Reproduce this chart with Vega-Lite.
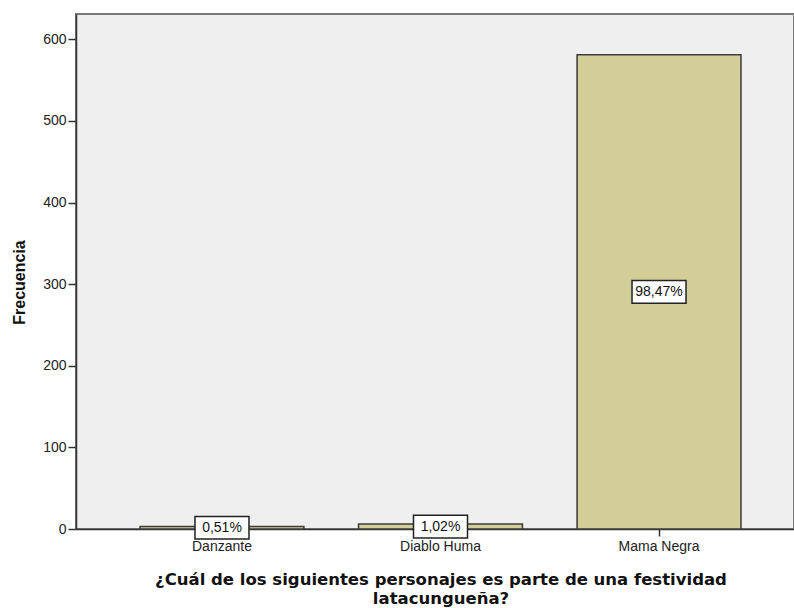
{
  "$schema": "https://vega.github.io/schema/vega-lite/v6.json",
  "width": 718,
  "height": 515,
  "autosize": {"type": "none"},
  "padding": {"left": 76, "top": 14, "right": 0, "bottom": 79},
  "background": "white",
  "config": {
    "view": {"fill": "#efefef", "stroke": "#7a7a7a", "strokeWidth": 2},
    "font": "Liberation Sans"
  },
  "data": {
    "values": [
      {"personaje": "Danzante", "frecuencia": 3, "porcentaje": "0,51%"},
      {"personaje": "Diablo Huma", "frecuencia": 6, "porcentaje": "1,02%"},
      {"personaje": "Mama Negra", "frecuencia": 581, "porcentaje": "98,47%"}
    ]
  },
  "encoding": {
    "x": {
      "field": "personaje",
      "type": "nominal",
      "sort": null,
      "scale": {"range": [0, 729], "paddingInner": 0.25, "paddingOuter": 0.293},
      "axis": {
        "title": ["¿Cuál de los siguientes personajes es parte de una festividad", "latacungueña?"],
        "titleFont": "DejaVu Sans",
        "titleFontWeight": "bold",
        "titleFontSize": 16.5,
        "titleColor": "#111111",
        "titleLineHeight": 19,
        "titlePadding": 18,
        "labelAngle": 0,
        "labelFontSize": 14,
        "labelColor": "#222222",
        "labelPadding": 3,
        "tickSize": 7,
        "tickColor": "#333333",
        "tickWidth": 1.5,
        "domainColor": "#333333",
        "domainWidth": 1.5
      }
    }
  },
  "layer": [
    {
      "mark": {"type": "bar", "fill": "#d3ce97", "stroke": "#3c3c3c", "strokeWidth": 1.5},
      "encoding": {
        "y": {
          "field": "frecuencia",
          "type": "quantitative",
          "scale": {"domain": [0, 631], "nice": false},
          "axis": {
            "title": "Frecuencia",
            "titleFont": "Liberation Sans",
            "titleFontWeight": "bold",
            "titleFontSize": 16,
            "titleColor": "#111111",
            "titleX": -57,
            "titleY": 268,
            "titleAngle": -90,
            "titleBaseline": "middle",
            "titleAlign": "center",
            "values": [0, 100, 200, 300, 400, 500, 600],
            "grid": false,
            "labelFontSize": 14,
            "labelColor": "#222222",
            "labelPadding": 2,
            "tickSize": 8,
            "tickColor": "#333333",
            "tickWidth": 1.5,
            "domainColor": "#333333",
            "domainWidth": 1.5
          }
        }
      }
    },
    {
      "transform": [{"calculate": "datum.frecuencia / 2", "as": "centro"}],
      "layer": [
        {
          "mark": {
            "type": "point",
            "shape": "M-1,-0.42L1,-0.42L1,0.42L-1,0.42Z",
            "size": 2916,
            "filled": true,
            "fill": "white",
            "stroke": "#222222",
            "strokeWidth": 1.5,
            "opacity": 1
          },
          "encoding": {
            "y": {"field": "centro", "type": "quantitative"}
          }
        },
        {
          "mark": {"type": "text", "fontSize": 14, "color": "#111111", "baseline": "middle", "align": "center"},
          "encoding": {
            "y": {"field": "centro", "type": "quantitative"},
            "text": {"field": "porcentaje"}
          }
        }
      ]
    }
  ]
}
